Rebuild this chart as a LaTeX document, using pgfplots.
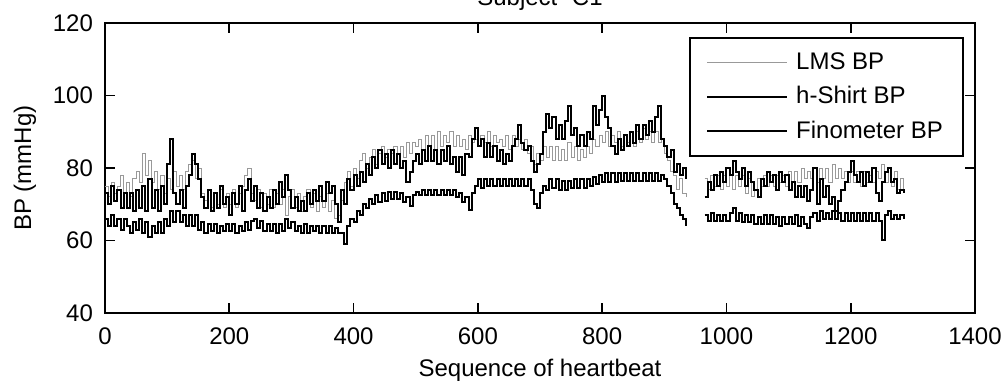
\documentclass[border=0pt]{standalone}
\usepackage{fontspec}
\setmainfont{Liberation Sans}
\usepackage{pgfplots}
\usepackage{pgfplotstable}
\pgfplotsset{compat=1.18}
\pgfplotstableread{
x lms shirt fino
0 75 73 66
5 72 70 64
10 76 75 67
15 73 71 64
20 75 74 66
25 78 69 63
30 73 73 66
35 76 69 64
40 72 73 62
45 77 68 65
50 79 74 63
55 76 69 66
60 84 75 62
65 78 68 65
70 82 77 61
75 76 69 64
80 79 74 62
85 74 68 65
90 78 75 62
95 73 70 66
100 77 81 64
105 74 88 68
110 79 73 65
115 75 70 68
120 78 74 65
125 74 69 67
130 79 75 64
135 81 78 67
140 82 84 64
145 77 81 67
150 80 77 63
155 73 72 65
160 71 69 62
165 74 74 64.5
170 69 68 62.5
175 73 73 64.5
180 70 69 62
185 74 75 64
190 69 70 62.5
195 73 72 64.5
200 70 67 62.5
205 74 73 64.5
210 69 70 62
215 73 75 64
220 75 68 62.5
225 78 74 65
230 80 77 63
235 73 71 65.5
240 71 75 66
245 74 69 63.5
250 69 73 65.5
255 73 68 62.5
260 70 72 64.5
265 74 69 62.5
270 69 74 64.5
275 73 70 62
280 70 76 64.5
285 74 72 62.5
290 67 78 66
295 72 74 63.5
300 74 69 65
305 69 72 62.5
310 73 68 64
315 68 71 62
320 72 68 64.5
325 74 73 62
330 69 70 64
335 73 74 62.5
340 68 71 64
345 72 75 62
350 69 71 64
355 73 76 62
360 68 73 64
365 71 75 62
370 66 70 63.5
375 67 65 62
380 71 74 62
385 76 70 59
390 79 77 64
395 75 74 66
400 80 78 65
405 77 75 68
410 82 79 67
415 84 76 70
420 80 81 69
425 83 78 71.5
430 85 83 70
435 81 80 72.5
440 84 85 70.5
445 86 81 73
450 83 84 71
455 85 80 73.5
460 84 85 71.5
465 86 81 73.5
470 84 84 71.5
475 86 80 73
480 83 82 70.5
485 87 76 72
490 84 79 69.5
495 87 82 72.5
500 86 84 73.5
505 88 81 72.5
510 85 85 74
515 89 82 72.5
520 86 86 74
525 89 82 72.5
530 85 85 74
535 90 81 72.5
540 86 85 74
545 89 82 72.5
550 87 86 74
555 90 81 72.5
560 86 83 74
565 89 79 72
570 86 83 73
575 88 78 70.5
580 85 84 72
585 89 83 68.5
590 87 88 73
595 88 91 75
600 86 86 77
605 89 88 74.5
610 87 83 77
615 90 87 75
620 86 83 77
625 89 86 75
630 87 82 77
635 88 85 75
640 86 81 77
645 89 84 75
650 85 82 77
655 89 86 75
660 86 88 77
665 88 92 75
670 85 87 77
675 88 85 75
680 84 86 77
685 86 82 74
690 81 79 70
695 84 81 69
700 82 84 73
705 86 90 75
710 83 95 74
715 86 91 77
720 82 94 74.5
725 86 88 77
730 82 92 74
735 85 88 76.5
740 82 93 74
745 87 97 76.5
750 83 89 74.5
755 86 91 77
760 82 86 74.5
765 85 89 77
770 83 86 74.5
775 86 90 77
780 84 88 75
785 88 97 77.5
790 86 92 75.5
795 89 96 78
800 87 100 76
805 90 94 78.5
810 86 91 76
815 89 86 78.5
820 87 84 76
825 90 88 78.5
830 86 85 76.5
835 89 89 78.5
840 87 86 76.5
845 90 90 78.5
850 86 87 76.5
855 90 92 78.5
860 87 88 76.5
865 91 92 78.5
870 88 89 76.5
875 90 93 78.5
880 87 90 76.5
885 90 94 78.5
890 87 97 76.5
895 88 88 78
900 84 86 77
905 82 83 75
910 79 85 73
915 78 79 70
920 74 81 69
925 77 78 67
930 73 80 66
935 72 77 64
940 nan nan nan
960 nan nan nan
965 77 72 67
970 74 76 65.5
975 78 74 67.5
980 75 78 65.5
985 78 75 67
990 74 79 65.5
995 78 76 67
1000 75 80 65.5
1005 78 78 67.5
1010 74 82 69
1015 78 79 65.5
1020 75 77 67.5
1025 78 80 65
1030 73 75 67
1035 77 79 65
1040 72 76 67
1045 74 74 64.5
1050 77 72 66.5
1055 75 77 64.5
1060 78 75 67
1065 75 79 64.5
1070 78 76 67
1075 75 78 64.5
1080 78 74 66.5
1085 76 79 64
1090 78 76 66.5
1095 75 78 64.5
1100 79 74 66.5
1105 76 76 64.5
1110 79 72 67
1115 76 75 64
1120 80 72 66.5
1125 77 75 64.5
1130 79 71 63.5
1135 77 74 66.5
1140 80 80 67.5
1145 76 70 65.5
1150 80 77 68
1155 77 72 66
1160 80 75 67.5
1165 76 70 66
1170 81 72 68
1175 77 68 66
1180 80 71 67.5
1185 77 74 65.5
1190 79 76 67.5
1195 76 79 65.5
1200 79 82 67.5
1205 76 78 65.5
1210 79 76 67.5
1215 75 79 65.5
1220 79 75 67.5
1225 76 79 65.5
1230 78 76 67.5
1235 76 80 65.5
1240 79 73 67.5
1245 77 71 65.5
1250 81 76 60
1255 76 79 67
1260 80 80 68
1265 75 76 66
1270 79 77 67
1275 74 73 66
1280 77 74 67
1285 74 73 66
}\datatable
\begin{document}
\begin{tikzpicture}
\begin{axis}[
  scale only axis,
  width=435pt, height=145pt,
  xmin=0, xmax=1400, ymin=40, ymax=120,
  xtick={0,200,...,1400}, ytick={40,60,...,120},
  tick align=inside,
  major tick length=5pt,
  axis line style={line width=0.8pt},
  every tick/.style={line width=0.8pt, black},
  /pgf/number format/assume math mode=true,
  /pgf/number format/1000 sep={},
  tick label style={font=\fontsize{12}{14}\selectfont},
  xticklabel style={yshift=-4pt},
  yticklabel style={xshift=-2.5pt},
  label style={font=\fontsize{12}{14}\selectfont},
  xlabel={Sequence of heartbeat},
  ylabel={BP (mmHg)},
  ylabel style={yshift=1.5pt},
  title={Subject- C1},
  every axis title/.style={font=\fontsize{12}{14}\selectfont, at={(0.5,1)}, anchor=base, yshift=9pt},
  unbounded coords=jump,
  legend cell align=left,
  legend image code/.code={\draw[#1] (0pt,0pt) -- (40pt,0pt);},
  legend style={at={(0.987,0.952)}, anchor=north east, draw=black, line width=0.8pt,
    fill=white, inner xsep=8pt, inner ysep=5.5pt, row sep=3pt,
    font=\fontsize{12}{14}\selectfont,
    /tikz/every odd column/.append style={column sep=2pt}},
]
\addplot[const plot, color=black!40, line width=0.5pt] table[x=x, y=lms] {\datatable};
\addlegendentry{LMS BP}
\addplot[const plot, color=black, line width=1pt] table[x=x, y=shirt] {\datatable};
\addlegendentry{h-Shirt BP}
\addplot[const plot, color=black, line width=1pt] table[x=x, y=fino] {\datatable};
\addlegendentry{Finometer BP}
\coordinate (sw) at (rel axis cs:0,0);
\coordinate (ne) at (rel axis cs:1,1);
\end{axis}
\pgfresetboundingbox
\path[use as bounding box] ([xshift=-52.5pt,yshift=-38.5pt]sw) rectangle ([xshift=16pt,yshift=11.5pt]ne);
\end{tikzpicture}
\end{document}
